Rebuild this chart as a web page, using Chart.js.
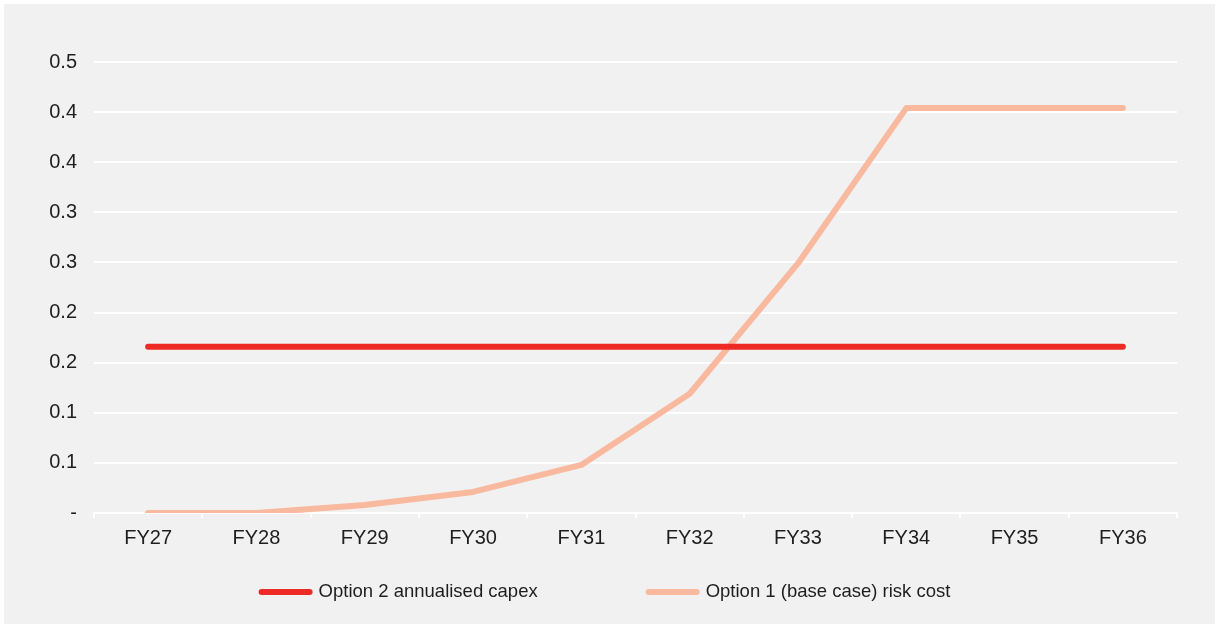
<!DOCTYPE html>
<html>
<head>
<meta charset="utf-8">
<script src="https://cdn.jsdelivr.net/npm/chart.js@4"></script>
<style>
  html, body { margin: 0; padding: 0; background: #ffffff; }
  #wrap { position: absolute; left: 4px; top: 4px; width: 1211px; height: 620px; background: #f1f1f1; }
</style>
</head>
<body>
<div id="wrap"><canvas id="chart"></canvas></div>
<script>
// Chart data
const years = ['FY27', 'FY28', 'FY29', 'FY30', 'FY31', 'FY32', 'FY33', 'FY34', 'FY35', 'FY36'];
const capexOption2 = [0.166, 0.166, 0.166, 0.166, 0.166, 0.166, 0.166, 0.166, 0.166, 0.166];
const riskOption1 = [0.0, 0.0, 0.008, 0.021, 0.048, 0.119, 0.249, 0.404, 0.404, 0.404];
// y tick labels as shown (rounded to one decimal)
const yTickLabels = ['-', '0.1', '0.1', '0.2', '0.2', '0.3', '0.3', '0.4', '0.4', '0.5'];

const RED = '#ee2a24';
const SALMON = '#f9b99f';
const FONT = '"Liberation Sans", Arial, sans-serif';

Chart.defaults.font.family = FONT;
Chart.defaults.font.size = 20;
Chart.defaults.color = '#1e1e1e';

// Bottom legend drawn by hand so items can sit far apart
const bottomLegend = {
    id: 'bottomLegend',
    afterDraw(chart) {
        const ctx = chart.ctx;
        const lineLen = 54, gap = 6, itemGap = 108;
        const y = 588;
        ctx.save();
        ctx.font = '18.5px ' + FONT;
        ctx.textBaseline = 'middle';
        const items = chart.data.datasets.map(ds => ({
            text: ds.label, color: ds.borderColor,
            w: lineLen + gap + ctx.measureText(ds.label).width
        }));
        const total = items.reduce((s, it) => s + it.w, 0) + itemGap * (items.length - 1);
        let x = (chart.width - total) / 2 - 5;
        items.forEach(it => {
            ctx.strokeStyle = it.color;
            ctx.lineWidth = 6;
            ctx.lineCap = 'round';
            ctx.beginPath();
            ctx.moveTo(x + 3, y);
            ctx.lineTo(x + lineLen - 3, y);
            ctx.stroke();
            ctx.fillStyle = '#1e1e1e';
            ctx.fillText(it.text, x + lineLen + gap, y);
            x += it.w + itemGap;
        });
        ctx.restore();
    }
};

new Chart(document.getElementById('chart').getContext('2d'), {
    type: 'line',
    data: {
        labels: years,
        datasets: [{
            label: 'Option 2 annualised capex',
            data: capexOption2,
            borderColor: RED,
            backgroundColor: RED,
            borderWidth: 6,
            borderCapStyle: 'round',
            pointRadius: 0,
            tension: 0
        }, {
            label: 'Option 1 (base case) risk cost',
            data: riskOption1,
            borderColor: SALMON,
            backgroundColor: SALMON,
            borderWidth: 6,
            borderCapStyle: 'round',
            borderJoinStyle: 'round',
            pointRadius: 0,
            tension: 0
        }]
    },
    options: {
        responsive: true,
        maintainAspectRatio: false,
        animation: false,
        layout: { padding: { top: 58, right: 38, bottom: 66, left: 0 } },
        plugins: {
            tooltip: { enabled: false },
            legend: { display: false }
        },
        scales: {
            x: {
                offset: true,
                grid: {
                    offset: true,
                    drawOnChartArea: false,
                    drawTicks: true,
                    tickLength: 5,
                    color: '#ffffff',
                    lineWidth: 2
                },
                border: { display: true, color: '#ffffff', width: 2 },
                ticks: { padding: 8, maxRotation: 0 }
            },
            y: {
                min: 0,
                max: 0.45,
                afterFit: (scale) => { scale.width = 90; },
                grid: { color: '#ffffff', lineWidth: 2, drawTicks: false },
                border: { display: false },
                ticks: {
                    stepSize: 0.05,
                    padding: 17,
                    callback: (value, index) => yTickLabels[index]
                }
            }
        }
    },
    plugins: [bottomLegend]
});
</script>
</body>
</html>
